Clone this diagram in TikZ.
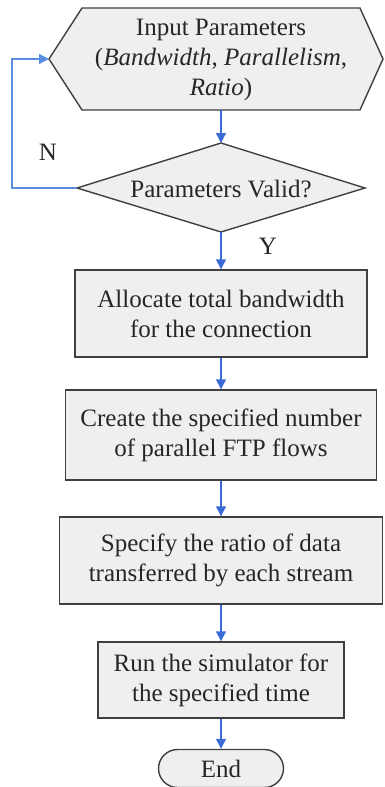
\documentclass[tikz,border=0pt]{standalone}
\usepackage{fontspec}
\setmainfont{Liberation Serif}
\usetikzlibrary{arrows.meta,shapes.misc}
\definecolor{boxfill}{HTML}{EFEFEF}
\definecolor{boxline}{HTML}{404040}
\definecolor{arrblue}{HTML}{3A6BD6}
\definecolor{loopblue}{HTML}{5A8DE0}
\begin{document}
\begin{tikzpicture}[x=1pt,y=-1pt,
  every node/.style={font=\fontsize{25}{30}\selectfont, align=center, text=black!85},
  procbox/.style={draw=boxline, fill=boxfill, line width=1.4pt, inner sep=0pt, rectangle},
  endbox/.style={draw=boxline, fill=boxfill, line width=1.4pt, inner sep=0pt, rounded rectangle},
  shapeline/.style={draw=boxline, fill=boxfill, line width=1.4pt, line join=miter},
  flow/.style={draw=arrblue, line width=1.4pt, -{Triangle[length=10pt,width=10pt]}},
  lbl/.style={inner sep=0pt}]
\useasboundingbox (0,0) rectangle (384,787);

% hexagon (input)
\coordinate (hW) at (49,59);
\coordinate (hNW) at (82,8);
\coordinate (hNE) at (360,8);
\coordinate (hE) at (383,59);
\coordinate (hSE) at (360,110);
\coordinate (hSW) at (82,110);
\coordinate (inpS) at (221,110);
\path[shapeline] (hW) -- (hNW) -- (hNE) -- (hE) -- (hSE) -- (hSW) -- cycle;
\node[lbl] (inp) at (221,60) {Input Parameters\\(\textit{Bandwidth}, \textit{Parallelism},\\\textit{Ratio})};

% diamond (decision)
\coordinate (dW) at (77,188);
\coordinate (dN) at (221,143);
\coordinate (dE) at (365,188);
\coordinate (dS) at (221,232);
\path[shapeline] (dW) -- (dN) -- (dE) -- (dS) -- cycle;
\node[lbl] (dec) at (221,189) {Parameters Valid?};

% process boxes
\node[procbox, minimum width=292pt, minimum height=87pt] (b1) at (221,313.5) {Allocate total bandwidth\\for the connection};
\node[procbox, minimum width=311pt, minimum height=90pt] (b2) at (221,435) {Create the specified number\\of parallel FTP flows};
\node[procbox, minimum width=323pt, minimum height=87pt] (b3) at (221,560.5) {Specify the ratio of data\\transferred by each stream};
\node[procbox, minimum width=246pt, minimum height=76pt] (b4) at (221,680) {Run the simulator for\\the specified time};
\node[endbox, minimum width=125pt, minimum height=38pt] (e) at (221,768.5) {End};

% labels
\node[lbl] (nlab) at (48,152) {N};
\node[lbl] (ylab) at (268,246) {Y};

% connectors
\coordinate (lp1) at (12,188);
\coordinate (lp2) at (12,59);
\draw[flow] (inpS) -- (dN);
\draw[flow, draw=loopblue] (dW) -- (lp1) -- (lp2) -- (hW);
\draw[flow] (dS) -- (b1.north);
\draw[flow] (b1.south) -- (b2.north);
\draw[flow] (b2.south) -- (b3.north);
\draw[flow] (b3.south) -- (b4.north);
\draw[flow] (b4.south) -- (e.north);
\end{tikzpicture}
\end{document}
